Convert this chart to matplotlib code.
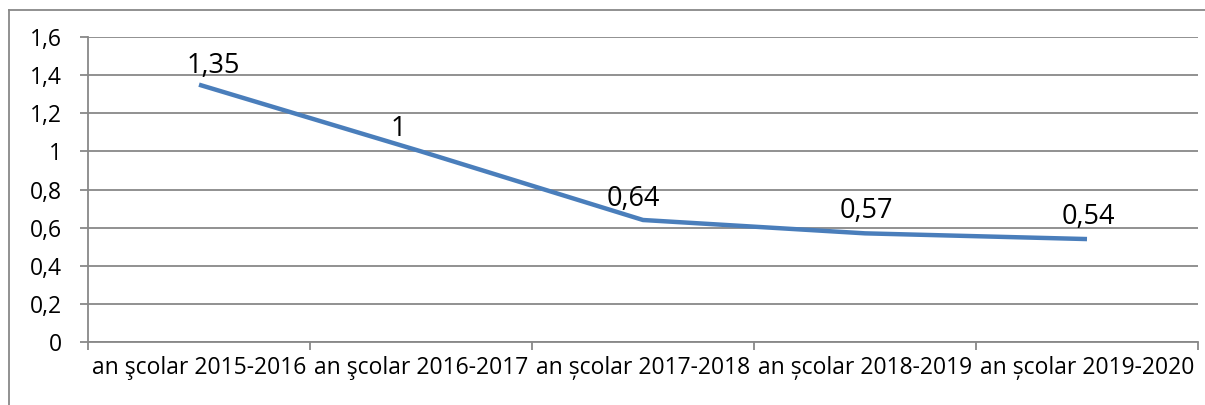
import matplotlib
matplotlib.use("Agg")
import matplotlib.pyplot as plt
from matplotlib.lines import Line2D
from matplotlib.ticker import FixedLocator, FuncFormatter

categories = ["an şcolar 2015-2016", "an şcolar 2016-2017", "an școlar 2017-2018",
              "an școlar 2018-2019", "an școlar 2019-2020"]
values = [1.35, 1.0, 0.64, 0.57, 0.54]
value_labels = ["1,35", "1", "0,64", "0,57", "0,54"]
yticks = [0, 0.2, 0.4, 0.6, 0.8, 1.0, 1.2, 1.4, 1.6]
ytick_labels = ["0", "0,2", "0,4", "0,6", "0,8", "1", "1,2", "1,4", "1,6"]

plt.rcParams['font.family'] = ['Open Sans', 'DejaVu Sans']
W, H = 1205, 405
fig = plt.figure(figsize=(W / 100, H / 100), dpi=100)
ax = fig.add_axes([88 / W, 1 - 342 / H, (1198 - 88) / W, (342 - 37) / H])

grid_c = "#888888"
n = len(categories)
xs = [i + 0.5 for i in range(n)]
ax.plot(xs, values, color="#4A7EBB", lw=3.2, solid_capstyle="butt", zorder=3)

offsets = [(10, 3), (-16, 6), (-7, 5), (1, 6), (1, 6)]
for x, v, lab, off in zip(xs, values, value_labels, offsets):
    ax.annotate(lab, (x, v), xytext=off, textcoords="offset points",
                ha="center", va="bottom", fontsize=19.5, color="black", zorder=4)

ax.set_xlim(0, n)
ax.set_ylim(0, 1.6)
ax.set_yticks(yticks)
ax.set_yticklabels(ytick_labels)
ax.yaxis.grid(True, color=grid_c, lw=1.3)
ax.set_axisbelow(True)

ax.xaxis.set_major_locator(FixedLocator(list(range(n + 1))))
ax.xaxis.set_major_formatter(FuncFormatter(lambda v, p: ""))
ax.xaxis.set_minor_locator(FixedLocator(xs))
ax.set_xticklabels(categories, minor=True)
ax.tick_params(axis="x", which="major", length=6, width=1.3, color=grid_c, direction="out")
ax.tick_params(axis="x", which="minor", length=0, pad=10, labelsize=16.5)
ax.tick_params(axis="y", length=6, width=1.3, color=grid_c, pad=13, labelsize=16.5)

for s in ["top", "right"]:
    ax.spines[s].set_visible(False)
for s in ["left", "bottom"]:
    ax.spines[s].set_color(grid_c)
    ax.spines[s].set_linewidth(1.3)

# outer chart frame (top and left edges visible)
fig.add_artist(Line2D([9 / W, 1], [1 - 10 / H, 1 - 10 / H], transform=fig.transFigure,
                      color="#888888", lw=1.3))
fig.add_artist(Line2D([9 / W, 9 / W], [0, 1 - 10 / H], transform=fig.transFigure,
                      color="#888888", lw=1.3))

fig.savefig("out.png", dpi=100, facecolor="white")
